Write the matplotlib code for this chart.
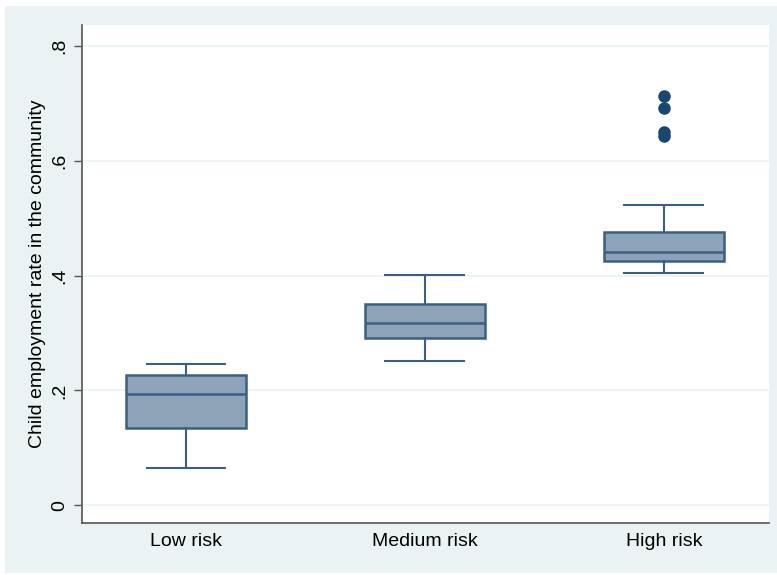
import matplotlib.pyplot as plt
from matplotlib.patches import Rectangle

plt.rcParams['font.family'] = ['Liberation Sans', 'DejaVu Sans']

# box statistics
groups = ['Low risk', 'Medium risk', 'High risk']
whislo = [0.065, 0.252, 0.404]
q1 = [0.135, 0.292, 0.425]
med = [0.194, 0.318, 0.442]
q3 = [0.227, 0.351, 0.477]
whishi = [0.246, 0.402, 0.523]
outliers = [[], [], [0.713, 0.692, 0.650, 0.643]]

stats = []
for i, g in enumerate(groups):
    stats.append(dict(label=g, whislo=whislo[i], q1=q1[i], med=med[i],
                      q3=q3[i], whishi=whishi[i], fliers=outliers[i]))

bg = '#EAF2F3'
edge = '#3A5F82'
fill = '#8DA3B8'
navy = '#1A476F'

fig = plt.figure(figsize=(7.77, 5.75), dpi=100)
fig.patch.set_facecolor('white')
fig.patches.append(Rectangle((5/777, 2/575), 1 - 5/777, 567/575,
                             transform=fig.transFigure, facecolor=bg,
                             edgecolor='none', zorder=-1))

ax = fig.add_axes([82/777, 52/575, 687/777, 498/575])
ax.set_facecolor('white')

ax.bxp(stats, positions=[1, 2, 3], widths=0.5, patch_artist=True,
       boxprops=dict(facecolor=fill, edgecolor=edge, linewidth=1.8),
       medianprops=dict(color=edge, linewidth=1.8),
       whiskerprops=dict(color=edge, linewidth=1.5),
       capprops=dict(color=edge, linewidth=1.5),
       capwidths=0.33,
       flierprops=dict(marker='o', markerfacecolor=navy, markeredgecolor=navy,
                       markersize=8))

ax.set_xlim(0.565, 3.44)
ax.set_ylim(-0.031, 0.837)
ax.set_yticks([0, 0.2, 0.4, 0.6, 0.8])
ax.set_yticklabels(['0', '.2', '.4', '.6', '.8'], rotation=90, va='center',
                   fontsize=14)
ax.tick_params(axis='y', length=6, width=1, color='#555555', pad=4)
ax.tick_params(axis='x', length=0, labelsize=14, pad=7)
ax.yaxis.grid(True, color=bg, linewidth=1.2)
ax.set_axisbelow(True)

for s in ['top', 'right']:
    ax.spines[s].set_visible(False)
for s in ['left', 'bottom']:
    ax.spines[s].set_color('#555555')
    ax.spines[s].set_linewidth(1.2)

ax.set_ylabel('Child employment rate in the community', fontsize=14, labelpad=4)

fig.savefig('out.png', dpi=100, facecolor=fig.get_facecolor())
